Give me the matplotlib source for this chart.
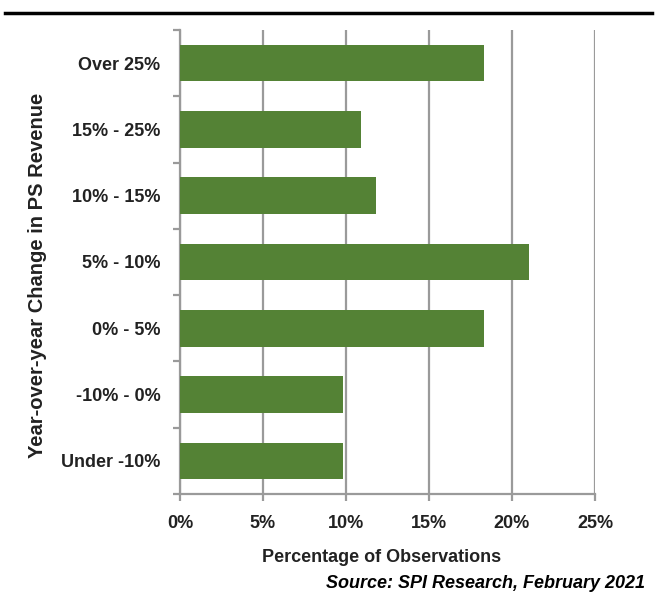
import matplotlib.pyplot as plt
from matplotlib.ticker import MultipleLocator, FuncFormatter
from matplotlib.lines import Line2D

categories = ["Over 25%", "15% - 25%", "10% - 15%", "5% - 10%",
              "0% - 5%", "-10% - 0%", "Under -10%"]
shares = [18.3, 10.9, 11.8, 21.0, 18.3, 9.8, 9.8]

plt.rcParams['font.family'] = ['Liberation Sans Narrow', 'Liberation Sans', 'DejaVu Sans']

fig = plt.figure(figsize=(6.56, 6.01), dpi=100)
ax = fig.add_axes([180 / 656, 107 / 601, 415 / 656, 464 / 601])

ypos = list(range(len(categories)))[::-1]
ax.barh(ypos, shares, height=0.55, color='#548235', zorder=3)

ax.set_xlim(0, 25)
ax.set_ylim(-0.5, len(categories) - 0.5)
ax.xaxis.set_major_locator(MultipleLocator(5))
ax.xaxis.set_major_formatter(FuncFormatter(lambda v, _: f"{v:.0f}%"))
ax.grid(axis='x', color='#9a9a9a', linewidth=1.6, zorder=0)

ax.set_yticks(ypos)
ax.set_yticklabels(categories)
ax.set_yticks([y - 0.5 for y in range(len(categories) + 1)], minor=True)
ax.tick_params(axis='y', which='major', length=0, pad=14)
ax.tick_params(axis='y', which='minor', length=5, color='#9a9a9a', width=1.6)
ax.tick_params(axis='x', length=5, color='#9a9a9a', width=1.6, pad=10)

for lab in ax.get_xticklabels() + ax.get_yticklabels():
    lab.set_fontsize(13)
    lab.set_fontweight('bold')
    lab.set_color('#222222')

for side in ['top', 'right']:
    ax.spines[side].set_visible(False)
for side in ['left', 'bottom']:
    ax.spines[side].set_color('#9a9a9a')
    ax.spines[side].set_linewidth(1.6)

fig.text(38 / 656, 1 - 275 / 601, "Year-over-year Change in PS Revenue",
         rotation=90, ha='center', va='center', fontsize=14.5,
         fontweight='bold', color='#222222')
fig.text(382 / 656, 1 - 557 / 601, "Percentage of Observations",
         ha='center', va='center', fontsize=13, fontweight='bold', color='#222222')
fig.text(645 / 656, 1 - 584 / 601, "Source: SPI Research, February 2021",
         ha='right', va='center', fontsize=13, fontweight='bold',
         style='italic', color='black')

# rule across the top of the figure
fig.add_artist(Line2D([5 / 656, 652 / 656], [1 - 13 / 601] * 2,
                      color='black', linewidth=2.5))

fig.savefig("out.png", dpi=100)
